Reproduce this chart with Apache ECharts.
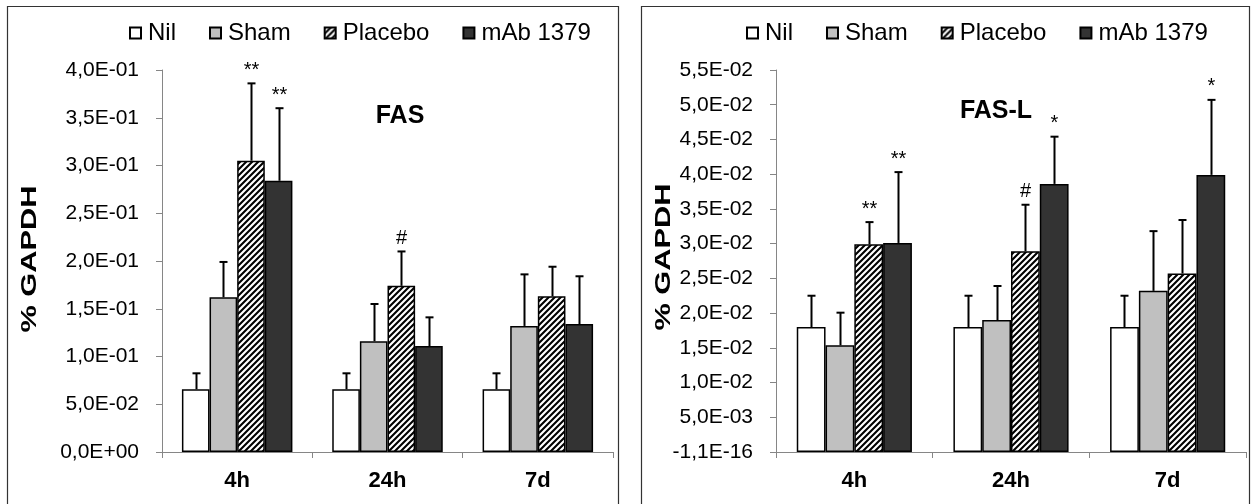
<!DOCTYPE html>
<html>
<head>
<meta charset="utf-8">
<script src="https://cdn.jsdelivr.net/npm/echarts@6/dist/echarts.min.js"></script>
<style>
html,body{margin:0;padding:0;background:#fff;}
#chart{width:1253px;height:504px;}
</style>
</head>
<body>
<div id="chart"></div>
<script>
// ---------- data ----------
const categories = ['4h', '24h', '7d'];
const groupNames = ['Nil', 'Sham', 'Placebo', 'mAb 1379'];

// FAS (left panel)
const fasNil = [0.0657, 0.0657, 0.0657];
const fasSham = [0.162, 0.116, 0.132];
const fasPlacebo = [0.305, 0.174, 0.163];
const fasMab = [0.284, 0.111, 0.134];
const fasNilErr = [0.0167, 0.0167, 0.0167];
const fasShamErr = [0.037, 0.039, 0.054];
const fasPlaceboErr = [0.081, 0.036, 0.031];
const fasMabErr = [0.076, 0.030, 0.050];
const fasPlaceboMarks = ['**', '#', ''];
const fasMabMarks = ['**', '', ''];
const fasTickLabels = ['0,0E+00','5,0E-02','1,0E-01','1,5E-01','2,0E-01','2,5E-01','3,0E-01','3,5E-01','4,0E-01'];

// FAS-L (right panel)
const faslNil = [0.018, 0.018, 0.018];
const faslSham = [0.01536, 0.019, 0.0232];
const faslPlacebo = [0.0299, 0.0289, 0.0257];
const faslMab = [0.0301, 0.0386, 0.0399];
const faslNilErr = [0.0045, 0.0045, 0.0045];
const faslShamErr = [0.0047, 0.0049, 0.0086];
const faslPlaceboErr = [0.0032, 0.0067, 0.0077];
const faslMabErr = [0.0102, 0.0068, 0.0108];
const faslPlaceboMarks = ['**', '#', ''];
const faslMabMarks = ['**', '*', '*'];
const faslTickLabels = ['-1,1E-16','5,0E-03','1,0E-02','1,5E-02','2,0E-02','2,5E-02','3,0E-02','3,5E-02','4,0E-02','4,5E-02','5,0E-02','5,5E-02'];

// ---------- styles ----------
const FONT = '"Liberation Sans", Arial, sans-serif';
const AXIS_COLOR = '#868686';
const CAT_GAP = 0.265;

function makeHatch() {
  const c = document.createElement('canvas');
  c.width = 6; c.height = 6;
  const ctx = c.getContext('2d');
  ctx.fillStyle = '#fff';
  ctx.fillRect(0, 0, 6, 6);
  ctx.strokeStyle = '#000';
  ctx.lineWidth = 2.1;
  ctx.beginPath();
  ctx.moveTo(-1, 7); ctx.lineTo(7, -1);
  ctx.moveTo(-4, 4); ctx.lineTo(4, -4);
  ctx.moveTo(2, 10); ctx.lineTo(10, 2);
  ctx.stroke();
  return c;
}
const hatch = makeHatch();
const groupColors = ['#ffffff', '#c0c0c0', { image: hatch, repeat: 'repeat' }, '#333333'];

function barSeries(name, values, gi) {
  return {
    name: name, type: 'bar', data: values,
    xAxisIndex: gi, yAxisIndex: gi,
    barGap: '0%', barCategoryGap: (CAT_GAP * 100) + '%',
    itemStyle: { color: groupColors[groupNames.indexOf(name)], borderColor: '#000', borderWidth: 1.5 },
    emphasis: { disabled: true },
    z: 2
  };
}

function errSeries(gi, valueSets, errSets, markSets) {
  const data = [];
  const marks = [];
  valueSets.forEach((vals, g) => {
    vals.forEach((v, c) => {
      data.push([c, v, v + errSets[g][c], g]);
      marks.push(markSets[g] ? markSets[g][c] : '');
    });
  });
  return {
    type: 'custom', name: 'err' + gi,
    xAxisIndex: gi, yAxisIndex: gi,
    encode: { x: 0, y: [1, 2] },
    data: data, z: 5, silent: true,
    renderItem: function (params, api) {
      const c = api.value(0), v = api.value(1), t = api.value(2), g = api.value(3);
      const bandW = api.size([1, 0])[0];
      const bw = bandW * (1 - CAT_GAP) / 4;
      const p0 = api.coord([c, v]);
      const p1 = api.coord([c, t]);
      const x = Math.round(p0[0] + (g - 1.5) * bw) + 0.5;
      const children = [
        { type: 'line', shape: { x1: x, y1: p0[1], x2: x, y2: p1[1] }, style: { stroke: '#000', lineWidth: 2 } },
        { type: 'line', shape: { x1: x - 4, y1: p1[1], x2: x + 4, y2: p1[1] }, style: { stroke: '#000', lineWidth: 2 } }
      ];
      const m = marks[params.dataIndex];
      if (m) {
        children.push({ type: 'text', x: x, y: p1[1] - 3,
          style: { text: m, font: '20px ' + FONT, fill: '#000', align: 'center', verticalAlign: 'bottom' } });
      }
      return { type: 'group', children: children };
    }
  };
}

function yAxis(gi, max, interval, labels) {
  return {
    type: 'value', gridIndex: gi, min: 0, max: max, interval: interval,
    axisLine: { show: true, lineStyle: { color: AXIS_COLOR, width: 1 } },
    axisTick: { show: true, length: 6, lineStyle: { color: AXIS_COLOR } },
    splitLine: { show: false },
    axisLabel: {
      margin: 23, color: '#000', fontSize: 21, fontFamily: FONT,
      formatter: function (v) { return labels[Math.round(v / interval)]; }
    }
  };
}

function xAxis(gi) {
  return {
    type: 'category', gridIndex: gi, data: categories,
    axisLine: { show: true, lineStyle: { color: AXIS_COLOR, width: 1 } },
    axisTick: { show: true, length: 6, alignWithLabel: false, lineStyle: { color: AXIS_COLOR } },
    axisLabel: { margin: 18, color: '#000', fontSize: 22, fontWeight: 'bold', fontFamily: FONT }
  };
}

function legend(left) {
  return {
    data: groupNames, left: left, top: 16, itemGap: 33,
    itemWidth: 11, itemHeight: 11, icon: 'rect',
    selectedMode: false,
    textStyle: { fontSize: 24, color: '#000', fontFamily: FONT, padding: [0, 0, 0, 2] }
  };
}

const chart = echarts.init(document.getElementById('chart'), null, { renderer: 'canvas' });
const option = {
  animation: false,
  backgroundColor: '#fff',
  grid: [
    { left: 162, right: 640, top: 70, bottom: 52 },
    { left: 776, right: 7, top: 70, bottom: 52 }
  ],
  title: [
    { text: 'FAS', left: 400, top: 116, textAlign: 'center', textVerticalAlign: 'middle', padding: 0,
      textStyle: { fontSize: 25, fontWeight: 'bold', color: '#000', fontFamily: FONT } },
    { text: 'FAS-L', left: 996, top: 111, textAlign: 'center', textVerticalAlign: 'middle', padding: 0,
      textStyle: { fontSize: 25, fontWeight: 'bold', color: '#000', fontFamily: FONT } }
  ],
  legend: [legend(124), legend(741)],
  xAxis: [xAxis(0), xAxis(1)],
  yAxis: [yAxis(0, 0.4, 0.05, fasTickLabels), yAxis(1, 0.055, 0.005, faslTickLabels)],
  series: [
    barSeries('Nil', fasNil, 0),
    barSeries('Sham', fasSham, 0),
    barSeries('Placebo', fasPlacebo, 0),
    barSeries('mAb 1379', fasMab, 0),
    barSeries('Nil', faslNil, 1),
    barSeries('Sham', faslSham, 1),
    barSeries('Placebo', faslPlacebo, 1),
    barSeries('mAb 1379', faslMab, 1),
    errSeries(0, [fasNil, fasSham, fasPlacebo, fasMab], [fasNilErr, fasShamErr, fasPlaceboErr, fasMabErr],
      [null, null, fasPlaceboMarks, fasMabMarks]),
    errSeries(1, [faslNil, faslSham, faslPlacebo, faslMab], [faslNilErr, faslShamErr, faslPlaceboErr, faslMabErr],
      [null, null, faslPlaceboMarks, faslMabMarks])
  ],
  graphic: [
    { type: 'rect', silent: true, z: 0, shape: { x: 7.5, y: 6.5, width: 611, height: 530 },
      style: { fill: 'none', stroke: '#333', lineWidth: 1.2 } },
    { type: 'rect', silent: true, z: 0, shape: { x: 641.5, y: 6.5, width: 608, height: 530 },
      style: { fill: 'none', stroke: '#333', lineWidth: 1.2 } },
    { type: 'text', silent: true, x: 30, y: 259, rotation: Math.PI / 2, scaleX: 1.4,
      style: { text: '% GAPDH', font: 'bold 22px ' + FONT, fill: '#000', align: 'center', verticalAlign: 'middle' } },
    { type: 'text', silent: true, x: 664, y: 257, rotation: Math.PI / 2, scaleX: 1.4,
      style: { text: '% GAPDH', font: 'bold 22px ' + FONT, fill: '#000', align: 'center', verticalAlign: 'middle' } }
  ]
};
chart.setOption(option);
</script>
</body>
</html>
